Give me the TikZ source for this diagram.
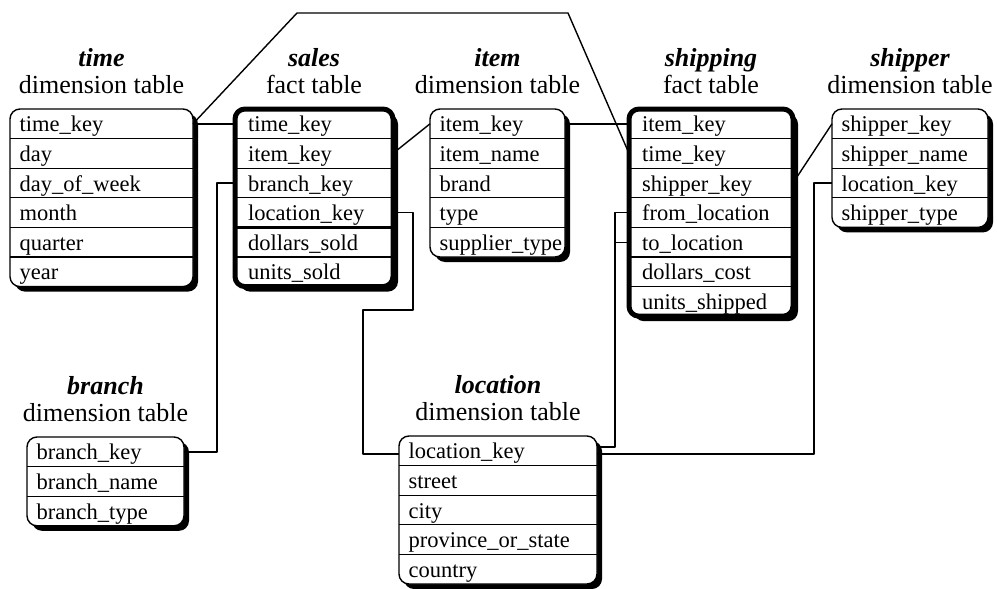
\documentclass[tikz,border=0pt]{standalone}
\usepackage{fontspec}
\setmainfont{Liberation Serif}
\usetikzlibrary{calc}
\newcommand\rowh{29.6}
% #1 name, #2 left, #3 top, #4 right, #5 nrows, #6 border width, #7 title, #8 subtitle, #9 rows
\newcommand\dbtable[9]{%
  \pgfmathsetmacro\tbot{#3+#5*\rowh}%
  \pgfmathsetmacro\tmid{(#2+#4)/2}%
  \node[titlename] (#1-title) at (\tmid,#3-43) {#7};
  \node[titlesub] (#1-sub) at (\tmid,#3-16) {#8};
  \fill[black, rounded corners=10pt] (#2+5,#3+5) rectangle (#4+5,\tbot+5);
  \fill[white, rounded corners=10pt] (#2,#3) rectangle (#4,\tbot);
  \foreach \t [count=\i] in {#9} {
    \pgfmathsetmacro\yc{#3+(\i-0.5)*\rowh}
    \node[rowbox, minimum width={#4-#2}] (#1-\i) at (\tmid,\yc) {};
    \node[rowtext] (#1-t\i) at (#2+8+#6,\yc+8) {\t};
    \ifnum\i<#5
      \draw[sepline] (#2,#3+\i*\rowh) -- (#4,#3+\i*\rowh);
    \fi
  }
  \draw[line width=#6, rounded corners=10pt] (#2,#3) rectangle (#4,\tbot);
}
\begin{document}
\begin{tikzpicture}[x=1pt,y=-1pt, line join=round,
  titlename/.style={font=\fontsize{26}{28}\selectfont\bfseries\itshape, inner sep=0, anchor=base},
  titlesub/.style={font=\fontsize{26}{28}\selectfont, inner sep=0, anchor=base},
  rowtext/.style={font=\fontsize{22.5}{25}\selectfont, anchor=base west, inner sep=0},
  rowbox/.style={inner sep=0, outer sep=0, minimum height=29.6pt},
  sepline/.style={line width=1.3pt},
  keysep/.style={line width=2.8pt},
  conn/.style={line width=1.4pt}]
\useasboundingbox (0,0) rectangle (997,589);
\fill[white] (0,0) rectangle (997,589);

\dbtable{time}{10}{109}{193}{6}{1.4pt}{time}{dimension table}%
  {time\_key,day,day\_of\_week,month,quarter,year}
\dbtable{sales}{235}{109}{393}{6}{5pt}{sales}{fact table}%
  {time\_key,item\_key,branch\_key,location\_key,dollars\_sold,units\_sold}
\draw[keysep] (sales-4.south west) -- (sales-4.south east);
\dbtable{item}{430}{109}{565}{5}{1.4pt}{item}{dimension table}%
  {item\_key,item\_name,brand,type,supplier\_type}
\dbtable{ship}{629}{109}{793}{7}{5pt}{shipping}{fact table}%
  {item\_key,time\_key,shipper\_key,from\_location,to\_location,dollars\_cost,units\_shipped}
\draw[keysep] (ship-5.south west) -- (ship-5.south east);
\dbtable{shipper}{832}{109}{988}{4}{1.4pt}{shipper}{dimension table}%
  {shipper\_key,shipper\_name,location\_key,shipper\_type}
\dbtable{branch}{27}{437}{184}{3}{1.4pt}{branch}{dimension table}%
  {branch\_key,branch\_name,branch\_type}
\dbtable{loc}{399}{436}{597}{5}{1.4pt}{location}{dimension table}%
  {location\_key,street,city,province\_or\_state,country}

% connectors
\coordinate (tc1) at (297,13);
\coordinate (tc2) at (568,13);
\draw[conn] (time-1.east) -- (sales-1.west);
\draw[conn] (time-1.east) -- (tc1) -- (tc2) -- (ship-2.west);
\draw[conn] (sales-2.east) -- (item-1.west);
\draw[line width=1.9pt] (sales-3.west) -- ++(-18,0) |- (branch-1.east);
\coordinate (lc1) at (413,310);
\coordinate (lc2) at (363,310);
\draw[conn] (sales-4.east) -| (lc1) -- (lc2) |- ($(loc-1.west)+(0,3)$);
\draw[conn] (item-1.east) -- (ship-1.west);
\draw[conn] (ship-4.west) -- ++(-14,0) |- ($(loc-1.east)+(0,-4)$);
\draw[conn] (ship-5.west) -- ++(-14,0);
\draw[conn] (ship-3.east) -- (shipper-1.west);
\draw[conn] (shipper-3.west) -- ++(-18,0) |- ($(loc-1.east)+(0,3)$);
\end{tikzpicture}
\end{document}
